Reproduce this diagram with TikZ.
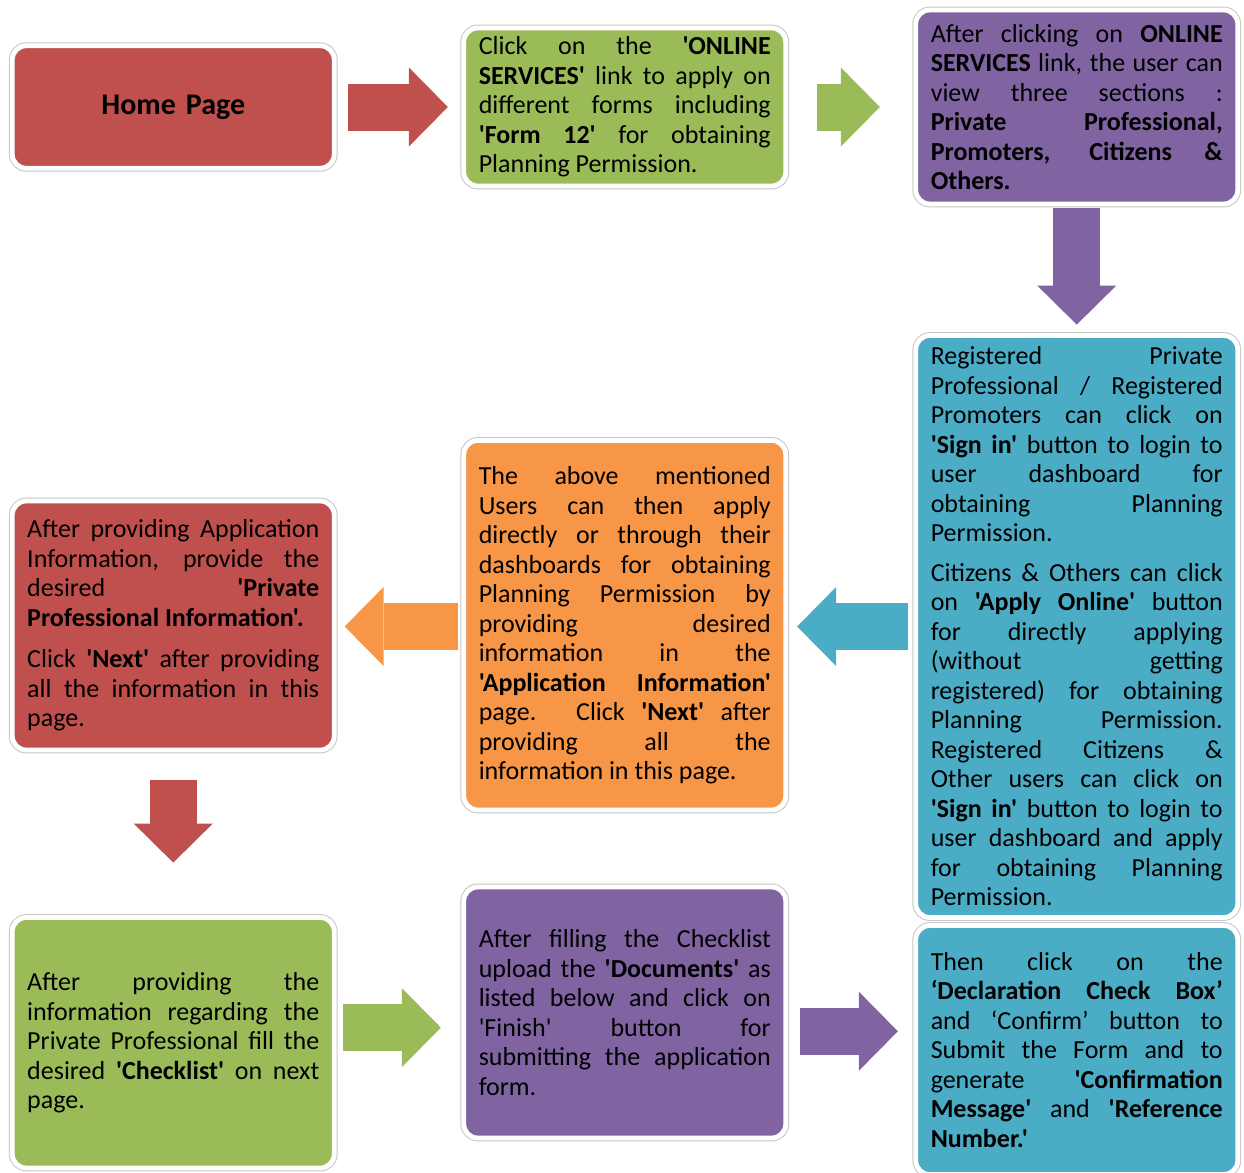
\documentclass[tikz,border=0pt]{standalone}
\usepackage{fontspec}
\setmainfont{Carlito}[Ligatures=TeXOff]
\usetikzlibrary{arrows.meta}
\usetikzlibrary{calc}
\usepackage{xcolor}

\definecolor{boxred}{HTML}{C0504D}
\definecolor{boxgreen}{HTML}{9BBB59}
\definecolor{boxpurple}{HTML}{8064A2}
\definecolor{boxteal}{HTML}{4BACC6}
\definecolor{boxorange}{HTML}{F79646}

\newcommand{\bodyfont}{\fontsize{13}{14.75}\selectfont}

\tikzset{
  stepbox/.style={rectangle, rounded corners=7pt, fill=#1, draw=white, line width=2.4pt,
    preaction={draw=black!22, line width=3.4pt}, minimum width=161pt,
    text width=146pt, align=justify, inner sep=0pt, font=\bodyfont},
  flowarrow/.style={#1, line width=23.5pt,
    -{Triangle[width=39.5pt,length=19.5pt,line width=0pt]}}
}

\begin{document}
\begin{tikzpicture}[x=0.5pt,y=-0.5pt]
            \useasboundingbox (0,0) rectangle (1244,1173);

            \node[stepbox=boxred, minimum height=61.25pt, align=center, font=\fontsize{15}{18}\selectfont\bfseries] (home) at (173.25,107) {Home Page};
            \node[stepbox=boxgreen, minimum height=79pt] (online) at (624.75,107) {Click on the \textbf{'ONLINE}\linebreak \textbf{SERVICES'} link to apply on\linebreak different forms including\linebreak \textbf{'Form 12'} for obtaining\linebreak Planning Permission.};
            \node[stepbox=boxpurple, minimum height=97pt] (sections) at (1076.75,107) {After clicking on \textbf{ONLINE}\linebreak \textbf{SERVICES} link, the user can\linebreak view three sections :\linebreak \textbf{Private Professional,}\linebreak \textbf{Promoters, Citizens \&}\linebreak \textbf{Others.}};
            \node[stepbox=boxteal, minimum height=291pt] (signin) at (1076.75,626.5) {Registered Private\linebreak Professional / Registered\linebreak Promoters can click on\linebreak \textbf{'Sign in'} button to login to\linebreak user dashboard for\linebreak obtaining Planning\linebreak Permission.\par\vspace{5pt}
            Citizens \& Others can click\linebreak on \textbf{'Apply Online'} button\linebreak for directly applying\linebreak (without getting\linebreak registered) for obtaining\linebreak Planning Permission.\linebreak Registered Citizens \&\linebreak Other users can click on\linebreak \textbf{'Sign in'} button to login to\linebreak user dashboard and apply\linebreak for obtaining Planning\linebreak Permission.};
            \node[stepbox=boxorange, minimum height=184.75pt] (appinfo) at (624.75,625.25) {The above mentioned\linebreak Users can then apply\linebreak directly or through their\linebreak dashboards for obtaining\linebreak Planning Permission by\linebreak providing desired\linebreak information in the\linebreak \textbf{'Application Information'}\linebreak page. Click \textbf{'Next'} after\linebreak providing all the\linebreak information in this page.};
            \node[stepbox=boxred, minimum height=124.5pt] (profinfo) at (173.25,625.5) {After providing Application\linebreak Information, provide the\linebreak desired \textbf{'Private}\linebreak \textbf{Professional Information'.}\par\vspace{6pt}
            Click \textbf{'Next'} after providing\linebreak all the information in this\linebreak page.};
            \node[stepbox=boxgreen, minimum height=125.25pt] (checklist) at (173.25,1042.75) {After providing the\linebreak information regarding the\linebreak Private Professional fill the\linebreak desired \textbf{'Checklist'} on next\linebreak page.};
            \node[stepbox=boxpurple, minimum height=125.5pt] (documents) at (624.75,1012.5) {After filling the Checklist\linebreak upload the \textbf{'Documents'} as\linebreak listed below and click on\linebreak 'Finish' button for\linebreak submitting the application\linebreak form.};
            \node[stepbox=boxteal, minimum height=124.5pt] (confirm) at (1076.75,1050) {Then click on the\linebreak \textbf{‘Declaration Check Box’}\linebreak and ‘Confirm’ button to\linebreak Submit the Form and to\linebreak generate \textbf{'Confirmation}\linebreak \textbf{Message'} and \textbf{'Reference}\linebreak \textbf{Number.'}};

            % arrows between the steps
            \coordinate (lowmid) at ($(checklist.east)!.5!(documents.west)$);
            \coordinate (lowmidb) at ($(documents.east)!.5!(confirm.west)$);
            \draw[flowarrow=boxred, shorten <=5.5pt, shorten >=6.75pt] (home.east) -- (online.west);
            \draw[flowarrow=boxgreen, shorten <=14.5pt, shorten >=16.75pt] (online.east) -- (sections.west);
            \draw[flowarrow=boxpurple, shorten <=1pt, shorten >=4.25pt] (sections.south) -- (signin.north);
            \draw[flowarrow=boxteal, shorten <=2.75pt, shorten >=4.5pt] (signin.west) -- (appinfo.east |- signin.west);
            \draw[flowarrow=boxorange, shorten <=1.75pt, shorten >=4pt] (appinfo.west |- signin.west) -- (profinfo.east |- signin.west);
            \draw[flowarrow=boxred, shorten <=14pt, shorten >=26.25pt] (profinfo.south) -- (checklist.north);
            \draw[flowarrow=boxgreen, shorten <=3pt, shorten >=10.25pt] (checklist.east |- lowmid) -- (documents.west |- lowmid);
            \draw[flowarrow=boxpurple, shorten <=6pt, shorten >=7.75pt] (documents.east |- lowmidb) -- (confirm.west |- lowmidb);
\end{tikzpicture}
\end{document}
